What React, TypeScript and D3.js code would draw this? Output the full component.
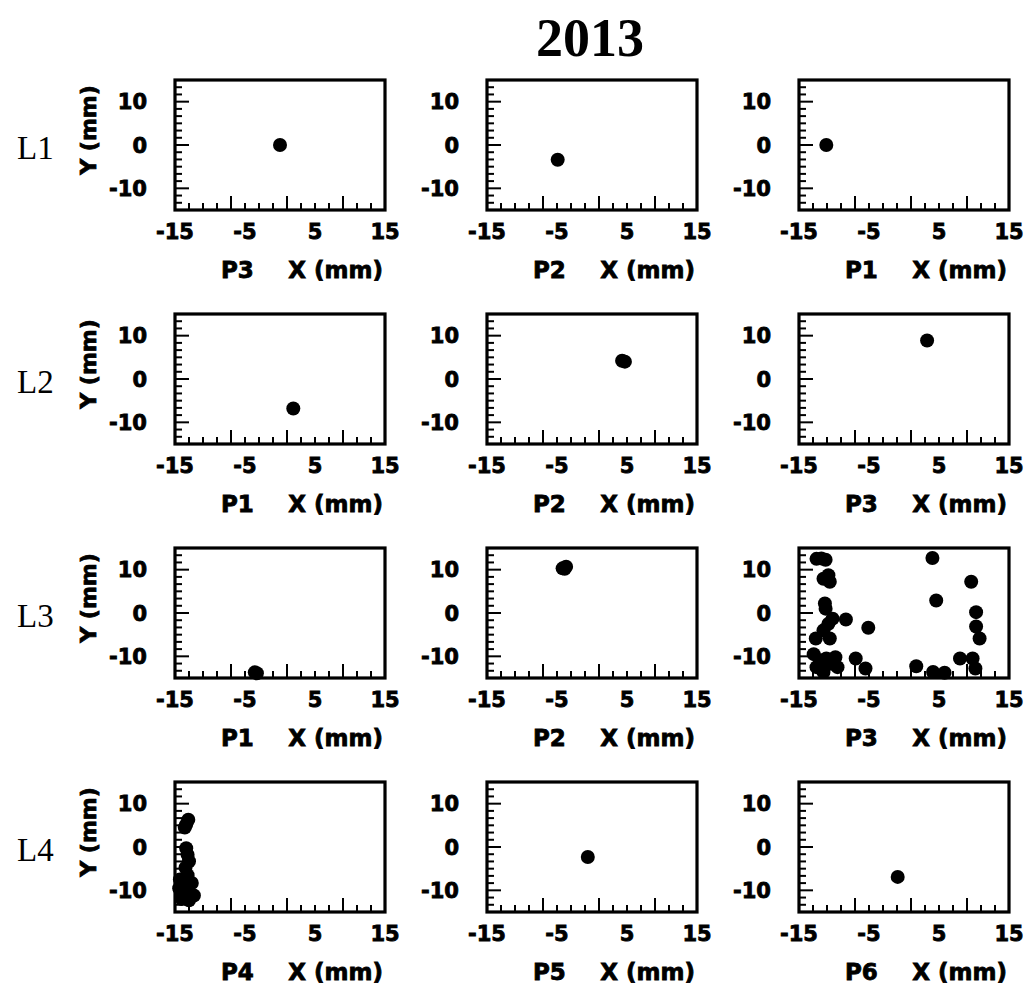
import React from "react";
import * as d3 from "d3";

const title = "2013";
const rowLabels = ["L1", "L2", "L3", "L4"];
const panelNames = [
  ["P3", "P2", "P1"],
  ["P1", "P2", "P3"],
  ["P1", "P2", "P3"],
  ["P4", "P5", "P6"],
];
const xTickLabels = [-15, -5, 5, 15];
const yTickLabels = [-10, 0, 10];
const xMajorTicks = [-7, 1, 9];
const yMajorTicks = [-10, 0, 10];

// [x, y] in mm
const l1p3 = [[0, 0]];
const l1p2 = [[-4.9, -3.4]];
const l1p1 = [[-11.1, 0]];
const l2p1 = [[1.9, -6.8]];
const l2p2 = [[4.3, 4.2], [4.7, 4.0]];
const l2p3 = [[3.3, 8.9]];
const l3p1 = [[-3.6, -13.7], [-3.3, -13.9]];
const l3p2 = [[-4.2, 10.3], [-3.7, 10.7], [-3.9, 10.2]];
const l3p3 = [
  [-12.5, 12.5], [-11.8, 12.6], [-11.2, 12.3], [-10.8, 8.7], [-10.6, 7.2], [-11.5, 7.9],
  [4.06, 12.7], [9.6, 7.2], [4.6, 2.9], [-11.3, 2.2], [-11.2, 1.0], [-10.2, -1.3],
  [-8.3, -1.5], [-10.8, -2.5], [-11.5, -4.0], [-5.1, -3.4], [-12.6, -5.9], [-10.6, -5.9],
  [10.3, 0.2], [10.3, -3.1], [10.8, -5.9], [-12.9, -9.5], [-11.1, -10.5], [-9.8, -10.2],
  [-6.9, -10.5], [-10.6, -11.7], [-12.5, -12.5], [-9.5, -12.5], [-5.5, -12.8], [1.75, -12.3],
  [8.0, -10.5], [9.8, -10.5], [10.2, -12.8], [4.15, -13.6], [5.8, -13.8], [-11.5, -13.6],
  [-12.0, -10.9],
];
const l4p4 = [
  [-13.1, 6.3], [-13.4, 5.2], [-13.6, 4.5], [-13.4, -0.3], [-13.2, -1.8], [-13.0, -3.3],
  [-13.5, -4.8], [-13.2, -6.5], [-12.6, -8.3], [-14.1, -8.8], [-14.2, -10.2], [-13.2, -10.5],
  [-12.3, -11.2], [-14.0, -12.0], [-13.0, -12.3], [-14.3, -7.5], [-14.4, -9.5],
];
const l4p5 = [[-0.6, -2.3]];
const l4p6 = [[-0.9, -6.9]];

const panelData = [
  [l1p3, l1p2, l1p1],
  [l2p1, l2p2, l2p3],
  [l3p1, l3p2, l3p3],
  [l4p4, l4p5, l4p6],
];

const colLefts = [175, 487, 799];
const rowTops = [80, 314, 548, 782];
const PW = 210;
const PH = 130;

const heavy = {
  fontFamily: "'DejaVu Sans', 'Liberation Sans', Arial, sans-serif",
  fontWeight: 700 as const,
  stroke: "#000",
  strokeWidth: 0.8,
  fill: "#000",
};

function Panel({ left, top, data, name, showY }: any) {
  const x = d3.scaleLinear().domain([-15, 15]).range([left, left + PW]);
  const y = d3.scaleLinear().domain([-15, 15]).range([top + PH, top]);
  const xTicks = d3.range(-13, 14, 2);
  const yTicks = d3.range(-15 + 10 / 6, 15, 10 / 6);
  const isMajor = (arr: number[], v: number) => arr.some((m) => Math.abs(m - v) < 0.01);
  return (
    <g>
      {xTicks.map((t) => (
        <line key={"xt" + t} x1={x(t)} x2={x(t)} y1={top + PH} y2={top + PH - (isMajor(xMajorTicks, t) ? 14 : 7)} stroke="#000" strokeWidth={2} />
      ))}
      {yTicks.map((t, i) => (
        <line key={"yt" + i} x1={left} x2={left + (isMajor(yMajorTicks, t) ? 14 : 7)} y1={y(t)} y2={y(t)} stroke="#000" strokeWidth={2} />
      ))}
      {data.map((d: number[], i: number) => (
        <circle key={i} cx={x(d[0])} cy={y(d[1])} r={7} fill="#000" />
      ))}
      <rect x={left} y={top} width={PW} height={PH} fill="none" stroke="#000" strokeWidth={3.2} />
      {yTickLabels.map((t) => (
        <text key={"yl" + t} x={left - 28} y={y(t)} dy="0.36em" textAnchor="end" fontSize={21} {...heavy}>
          {t}
        </text>
      ))}
      {xTickLabels.map((t) => (
        <text key={"xl" + t} x={x(t)} y={top + PH + 29} textAnchor="middle" fontSize={21} {...heavy}>
          {t}
        </text>
      ))}
      <text x={left + 46} y={top + PH + 68} textAnchor="start" fontSize={23} {...heavy}>
        {name}
      </text>
      <text x={left + PW - 2} y={top + PH + 68} textAnchor="end" fontSize={23} {...heavy}>
        X (mm)
      </text>
      {showY && (
        <text
          transform={`translate(${left - 79},${top + PH / 2 - 15}) rotate(-90)`}
          textAnchor="middle"
          fontSize={22}
          {...heavy}
        >
          Y (mm)
        </text>
      )}
    </g>
  );
}

export default function App() {
  return (
    <svg
      width={1027}
      height={990}
      style={{ position: "absolute", left: 0, top: 0, background: "#fff" }}
    >
      <rect width={1027} height={990} fill="#fff" />
      <text x={590} y={56} textAnchor="middle" fontSize={54} fontWeight={700} fontFamily="'Liberation Serif', 'Times New Roman', serif">
        {title}
      </text>
      {rowLabels.map((l, r) => (
        <text key={l} x={17} y={rowTops[r] + PH / 2 + 14} fontSize={33} fontFamily="'Liberation Serif', 'Times New Roman', serif">
          {l}
        </text>
      ))}
      {rowTops.map((top, r) =>
        colLefts.map((left, c) => (
          <Panel key={r + "-" + c} left={left} top={top} data={panelData[r][c]} name={panelNames[r][c]} showY={c === 0} />
        ))
      )}
    </svg>
  );
}
